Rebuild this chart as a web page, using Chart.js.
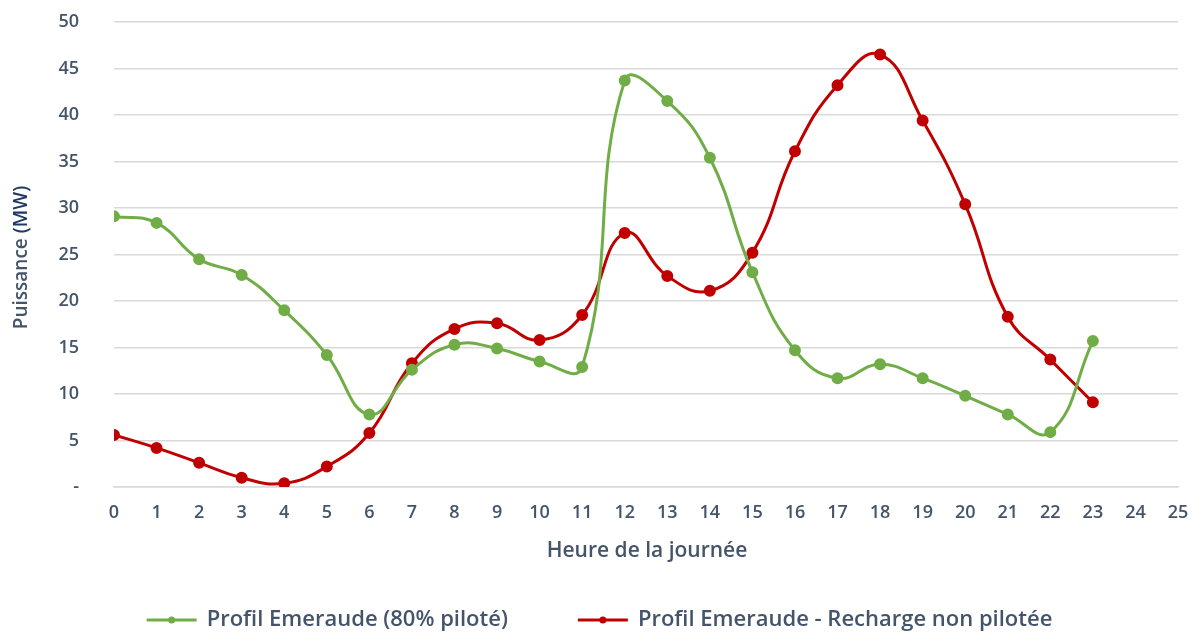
<!DOCTYPE html>
<html>
<head>
<meta charset="utf-8">
<script src="https://cdn.jsdelivr.net/npm/chart.js@4/dist/chart.umd.min.js"></script>
<style>
  html, body { margin: 0; padding: 0; background: #ffffff; }
  #wrap { width: 1199px; height: 632px; position: relative; }
</style>
</head>
<body>
<div id="wrap"><canvas id="c"></canvas></div>
<script>
// Hours of the day (0 to 23)
const hours = [0,1,2,3,4,5,6,7,8,9,10,11,12,13,14,15,16,17,18,19,20,21,22,23];

// Power profile (MW) with 80% of charging managed
const pilote = [29.1, 28.4, 24.5, 22.8, 19.0, 14.2, 7.8, 12.6, 15.3, 14.9, 13.5, 12.9,
                43.7, 41.5, 35.4, 23.1, 14.7, 11.7, 13.2, 11.7, 9.8, 7.8, 5.9, 15.7];

// Power profile (MW) with unmanaged charging
const nonPilote = [5.6, 4.2, 2.6, 1.0, 0.4, 2.2, 5.8, 13.3, 17.0, 17.6, 15.8, 18.5,
                   27.3, 22.7, 21.1, 25.2, 36.1, 43.2, 46.5, 39.4, 30.4, 18.3, 13.7, 9.1];

const seriesNames = ['Profil Emeraude (80% piloté)', 'Profil Emeraude - Recharge non pilotée'];
const xAxisTitle = 'Heure de la journée';
const yAxisTitleParts = ['Puissance ', '(MW)'];

const GREEN = '#70AD47';
const RED = '#C00000';
const TEXT = '#44546A';
const NAVY = '#1F3864';
const FONT = '"Open Sans", Lato, sans-serif';

// Axis titles and legend drawn directly on the canvas
const annotationsPlugin = {
  id: 'annotations',
  afterDraw(chart) {
    const ctx = chart.ctx;
    const area = chart.chartArea;
    ctx.save();

    // y-axis title, rotated, in two colours
    ctx.save();
    ctx.translate(22, (area.top + area.bottom) / 2 + 3);
    ctx.rotate(-Math.PI / 2);
    ctx.font = '600 19px ' + FONT;
    ctx.textBaseline = 'middle';
    ctx.textAlign = 'left';
    const w0 = ctx.measureText(yAxisTitleParts[0]).width;
    const w1 = ctx.measureText(yAxisTitleParts[1]).width;
    const x0 = -(w0 + w1) / 2;
    ctx.fillStyle = TEXT;
    ctx.fillText(yAxisTitleParts[0], x0, 0);
    ctx.fillStyle = NAVY;
    ctx.fillText(yAxisTitleParts[1], x0 + w0, 0);
    ctx.restore();

    // x-axis title
    ctx.font = '600 21px ' + FONT;
    ctx.fillStyle = TEXT;
    ctx.textAlign = 'center';
    ctx.textBaseline = 'middle';
    ctx.fillText(xAxisTitle, 647, area.bottom + 64);

    // legend
    const colors = [GREEN, RED];
    const markerW = 50, markerGap = 10, itemGap = 70;
    ctx.font = '600 22px ' + FONT;
    const widths = seriesNames.map(t => ctx.measureText(t).width);
    const total = widths.reduce((a, b) => a + b, 0) + 2 * (markerW + markerGap) + itemGap;
    let x = (chart.width - total) / 2;
    const y = 620;
    seriesNames.forEach((name, i) => {
      ctx.strokeStyle = colors[i];
      ctx.lineWidth = 3;
      ctx.beginPath();
      ctx.moveTo(x, y);
      ctx.lineTo(x + markerW, y);
      ctx.stroke();
      ctx.fillStyle = colors[i];
      ctx.beginPath();
      ctx.arc(x + markerW / 2, y, 3.5, 0, Math.PI * 2);
      ctx.fill();
      ctx.fillStyle = TEXT;
      ctx.textAlign = 'left';
      ctx.fillText(name, x + markerW + markerGap, y);
      x += markerW + markerGap + widths[i] + itemGap;
    });
    ctx.restore();
  }
};

const toPoints = arr => arr.map((v, i) => ({ x: hours[i], y: v }));

new Chart(document.getElementById('c'), {
  type: 'line',
  data: {
    datasets: [
      {
        label: seriesNames[0],
        data: toPoints(pilote),
        borderColor: GREEN,
        backgroundColor: GREEN,
        borderWidth: 3,
        pointRadius: 4.5,
        pointHoverRadius: 4.5,
        tension: 0.45,
        fill: false
      },
      {
        label: seriesNames[1],
        data: toPoints(nonPilote),
        borderColor: RED,
        backgroundColor: RED,
        borderWidth: 3,
        pointRadius: 4.5,
        pointHoverRadius: 4.5,
        tension: 0.45,
        fill: false
      }
    ]
  },
  options: {
    responsive: true,
    maintainAspectRatio: false,
    animation: false,
    layout: { padding: { top: 22, right: 21, left: 0, bottom: 0 } },
    plugins: {
      tooltip: { enabled: false },
      legend: { display: false }
    },
    scales: {
      x: {
        type: 'linear',
        min: 0,
        max: 25,
        ticks: {
          stepSize: 1,
          color: TEXT,
          padding: 15,
          font: { family: FONT, size: 18, weight: '600' }
        },
        grid: { display: false, drawTicks: false },
        border: { display: true, color: '#D9D9D9', width: 1.5 },
        afterFit(scale) {
          scale.height = 145;
          scale.paddingLeft = 0;
          scale.paddingRight = 0;
        }
      },
      y: {
        min: 0,
        max: 50,
        ticks: {
          stepSize: 5,
          color: TEXT,
          padding: 35,
          font: { family: FONT, size: 18, weight: '600' },
          callback: v => (v === 0 ? '-' : v)
        },
        grid: { color: '#D9D9D9', lineWidth: 1.5, drawTicks: false },
        border: { display: false },
        afterFit(scale) {
          scale.width = 114;
          scale.paddingTop = 0;
          scale.paddingBottom = 0;
        }
      }
    }
  },
  plugins: [annotationsPlugin]
});
</script>
</body>
</html>
